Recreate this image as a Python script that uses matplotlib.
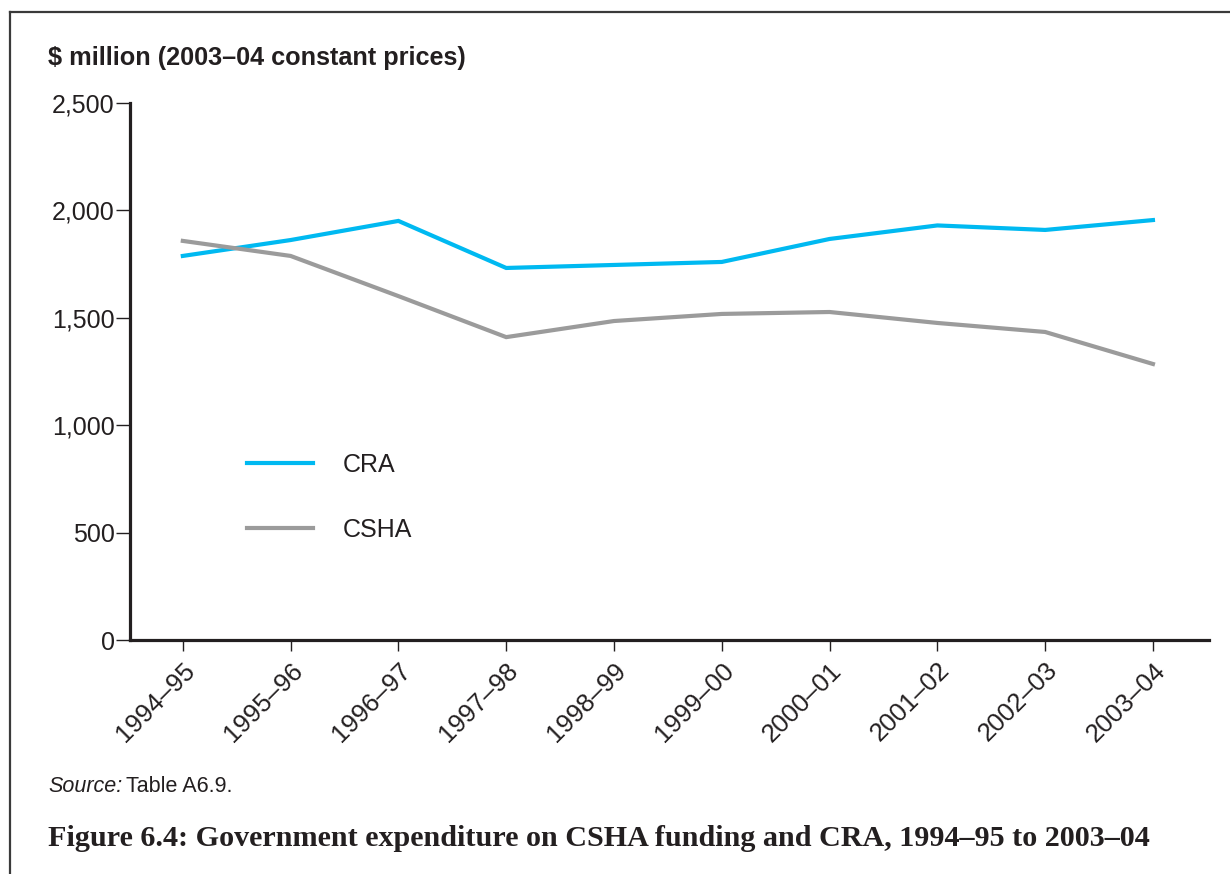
import matplotlib
matplotlib.use("Agg")
import matplotlib.pyplot as plt
from matplotlib.lines import Line2D
from matplotlib.ticker import FuncFormatter

years = ["1994–95", "1995–96", "1996–97", "1997–98", "1998–99",
         "1999–00", "2000–01", "2001–02", "2002–03", "2003–04"]
cra = [1788, 1862, 1951, 1732, 1746, 1760, 1867, 1930, 1909, 1955]
csha = [1858, 1788, 1601, 1410, 1485, 1518, 1527, 1476, 1434, 1285]
yticks = [0, 500, 1000, 1500, 2000, 2500]

BLUE = "#00B9F1"
GREY = "#9B9B9B"
DARK = "#231F20"

plt.rcParams["font.family"] = ["Liberation Sans", "DejaVu Sans"]

fig = plt.figure(figsize=(12.3, 8.74), dpi=100)
ax = fig.add_axes([130/1230, 1-640/874, (1209-130)/1230, (640-103)/874])

x = list(range(len(years)))
ax.plot(x, cra, color=BLUE, lw=3.0, solid_joinstyle="miter")
ax.plot(x, csha, color=GREY, lw=3.0, solid_joinstyle="miter")

ax.set_xlim(-0.49, 9.52)
ax.set_ylim(0, 2500)
ax.set_yticks(yticks)
ax.yaxis.set_major_formatter(FuncFormatter(lambda v, p: f"{int(v):,}"))
ax.set_xticks(x)
ax.set_xticklabels(years, rotation=45, ha="right", rotation_mode="anchor")

for s in ["top", "right"]:
    ax.spines[s].set_visible(False)
for s in ["left", "bottom"]:
    ax.spines[s].set_linewidth(2.3)
    ax.spines[s].set_color(DARK)
ax.tick_params(axis="y", direction="out", length=10, width=1.0, color=DARK,
               labelsize=18, pad=1, labelcolor=DARK)
ax.tick_params(axis="x", direction="out", length=8, width=1.0, color=DARK,
               labelsize=18.5, pad=5, labelcolor=DARK)

# Legend
handles = [Line2D([], [], color=BLUE, lw=3.0), Line2D([], [], color=GREY, lw=3.0)]
leg = ax.legend(handles, ["CRA", "CSHA"], loc="upper left",
                bbox_to_anchor=(0.1084, 0.348), frameon=False, fontsize=18,
                borderaxespad=0, borderpad=0,
                handlelength=2.65, handletextpad=1.2, labelspacing=1.62)
for t in leg.get_texts():
    t.set_color(DARK)

fig.text(48/1230, 1-58/874, "$ million (2003–04 constant prices)", fontsize=18.2,
         fontweight="bold", color=DARK, va="center", ha="left")

t1 = fig.text(48/1230, 1-786/874, "Source:", fontsize=15.5, style="italic", color=DARK,
              va="center", ha="left")
ax.annotate("Table A6.9.", xy=(1, 0.5), xycoords=t1, xytext=(3, 0),
            textcoords="offset points", fontsize=15.5, color=DARK,
            va="center", ha="left", annotation_clip=False)

fig.text(48/1230, 1-838/874,
         "Figure 6.4: Government expenditure on CSHA funding and CRA, 1994–95 to 2003–04",
         fontsize=21.7, fontweight="bold", family=["Liberation Serif", "DejaVu Serif"],
         color=DARK, va="center", ha="left")

# Frame lines (top and left)
fig.add_artist(Line2D([10/1230, 1.0], [1-12/874, 1-12/874], transform=fig.transFigure,
                      color="#3A3A3A", lw=1.6))
fig.add_artist(Line2D([10/1230, 10/1230], [1-12/874, 0], transform=fig.transFigure,
                      color="#3A3A3A", lw=1.6))

fig.savefig("out.png", dpi=100)
